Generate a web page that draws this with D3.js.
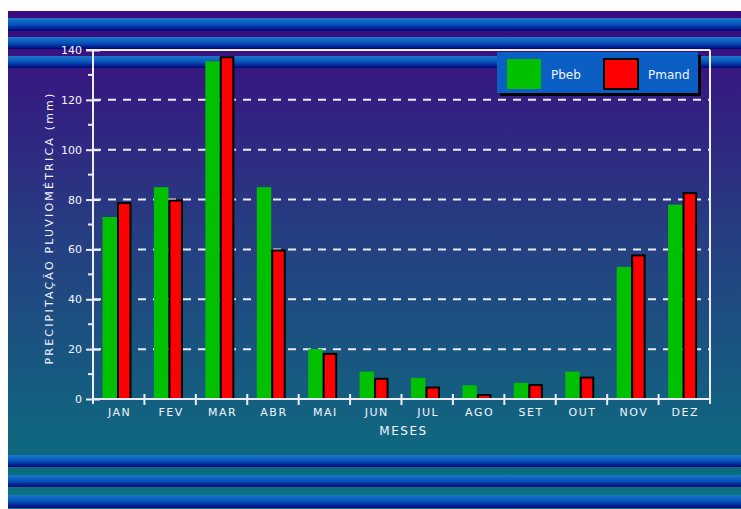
<!DOCTYPE html>
<html>
<head>
<meta charset="utf-8">
<script src="https://cdn.jsdelivr.net/npm/d3@7"></script>
<style>
  body { margin: 0; background: #fff; }
  text { font-family: "DejaVu Sans", sans-serif; fill: #f4f4ff; }
</style>
</head>
<body>
<svg id="chart" width="741" height="509"></svg>
<script>
// data
var months = ["JAN", "FEV", "MAR", "ABR", "MAI", "JUN", "JUL", "AGO", "SET", "OUT", "NOV", "DEZ"]
var pbeb  = [73, 85, 135.5, 85, 20, 11, 8.5, 5.5, 6.5, 11, 53, 78]
var pmand = [79, 80, 137.5, 60, 18.5, 8.5, 5, 2, 6, 9, 58, 83]
var seriesNames = ["Pbeb", "Pmand"]
var yTicks = [0, 20, 40, 60, 80, 100, 120, 140]

var margin = {left: 93, right: 31, top: 50, bottom: 110}
var width = 741 - margin.left - margin.right
var height = 509 - margin.top - margin.bottom

var svg = d3.select("#chart")
var defs = svg.append("defs")

var bg = defs.append("linearGradient").attr("id", "bg")
    .attr("x1", 0).attr("y1", 0).attr("x2", 0).attr("y2", 1)
bg.append("stop").attr("offset", "0%").attr("stop-color", "#3c0a80")
bg.append("stop").attr("offset", "45%").attr("stop-color", "#263e82")
bg.append("stop").attr("offset", "100%").attr("stop-color", "#08747e")

var stripe = defs.append("linearGradient").attr("id", "stripe")
    .attr("x1", 0).attr("y1", 0).attr("x2", 0).attr("y2", 1)
stripe.append("stop").attr("offset", "0%").attr("stop-color", "#1a78cc")
stripe.append("stop").attr("offset", "50%").attr("stop-color", "#0652b8")
stripe.append("stop").attr("offset", "100%").attr("stop-color", "#00047a")

// background panel + decorative stripes
svg.append("rect").attr("x", 8).attr("y", 11).attr("width", 733).attr("height", 498)
    .attr("fill", "url(#bg)")
var stripes = [[18, 13], [37, 12], [56, 12], [455, 12], [475, 12], [495, 13]]
svg.selectAll(".stripe").data(stripes).enter().append("rect")
    .attr("x", 8).attr("width", 733)
    .attr("y", function (d) { return d[0] })
    .attr("height", function (d) { return d[1] })
    .attr("fill", "url(#stripe)")

var g = svg.append("g").attr("transform", "translate(" + margin.left + "," + margin.top + ")")

var x = d3.scaleBand().domain(months).range([0, width])
var xSub = d3.scaleBand().domain(seriesNames).range([9.5, 38.5])
var y = d3.scaleLinear().domain([0, 140]).range([height, 0])

var lineColor = "#ececfa"

// dashed grid
g.selectAll(".grid").data(yTicks.filter(function (d) { return d > 0 && d < 140 }))
    .enter().append("line")
    .attr("x1", 0).attr("x2", width)
    .attr("y1", function (d) { return y(d) }).attr("y2", function (d) { return y(d) })
    .attr("stroke", lineColor).attr("stroke-width", 2)
    .attr("stroke-dasharray", "8,7")

// bars
var rows = months.map(function (m, i) { return {month: m, Pbeb: pbeb[i], Pmand: pmand[i]} })
var groups = g.selectAll(".grp").data(rows).enter().append("g")
    .attr("transform", function (d) { return "translate(" + x(d.month) + ",0)" })

groups.append("rect")
    .attr("x", xSub("Pbeb")).attr("width", xSub.bandwidth())
    .attr("y", function (d) { return y(d.Pbeb) })
    .attr("height", function (d) { return height - y(d.Pbeb) })
    .attr("fill", "#00c000")

groups.append("rect")
    .attr("x", xSub("Pmand") + 1).attr("width", xSub.bandwidth() - 2)
    .attr("y", function (d) { return y(d.Pmand) + 1 })
    .attr("height", function (d) { return Math.max(0, height - y(d.Pmand) - 1) })
    .attr("fill", "#ff0000").attr("stroke", "#000").attr("stroke-width", 2)

// frame (top and right)
g.append("line").attr("x1", -7).attr("x2", width).attr("y1", 0).attr("y2", 0)
    .attr("stroke", lineColor).attr("stroke-width", 2)
g.append("line").attr("x1", width).attr("x2", width).attr("y1", 0).attr("y2", height + 5)
    .attr("stroke", lineColor).attr("stroke-width", 2)

// y axis
var yAxis = g.append("g").call(d3.axisLeft(y).tickValues(yTicks).tickSize(7).tickPadding(5))
yAxis.select(".domain").remove()
yAxis.append("line").attr("x1", 0).attr("x2", 0).attr("y1", 0).attr("y2", height + 5)
    .attr("stroke", lineColor).attr("stroke-width", 2)
yAxis.selectAll(".tick line").attr("x2", -7).attr("x1", 7).attr("stroke", lineColor).attr("stroke-width", 2)
yAxis.selectAll(".tick text").attr("x", -11).style("font-size", "11px").style("fill", "#f4f4ff")
// minor ticks
g.selectAll(".minor").data(d3.range(10, 140, 20)).enter().append("line")
    .attr("x1", -5).attr("x2", 0)
    .attr("y1", function (d) { return y(d) }).attr("y2", function (d) { return y(d) })
    .attr("stroke", lineColor).attr("stroke-width", 2)

// x axis
g.append("line").attr("x1", 0).attr("x2", width).attr("y1", height).attr("y2", height)
    .attr("stroke", lineColor).attr("stroke-width", 2)
g.selectAll(".xtick").data(months.slice(1)).enter().append("line")
    .attr("x1", function (d) { return x(d) }).attr("x2", function (d) { return x(d) })
    .attr("y1", height - 5).attr("y2", height + 6)
    .attr("stroke", lineColor).attr("stroke-width", 2)
g.selectAll(".xlab").data(months).enter().append("text")
    .attr("x", function (d) { return x(d) + x.bandwidth() / 2 + 1 })
    .attr("y", height + 17)
    .attr("text-anchor", "middle")
    .style("font-size", "11px").style("letter-spacing", "1.5px")
    .text(function (d) { return d })

// axis titles
g.append("text").attr("x", width / 2 + 2).attr("y", height + 36)
    .attr("text-anchor", "middle").style("font-size", "12px").style("letter-spacing", "1.5px")
    .text("MESES")
g.append("text").attr("transform", "translate(-40," + (height / 2 + 3.5) + ") rotate(-90)")
    .attr("text-anchor", "middle").style("font-size", "11px").style("letter-spacing", "2.2px")
    .text("PRECIPITAÇÃO PLUVIOMÉTRICA (mm)")

// legend
var legend = svg.append("g").attr("transform", "translate(497,52)")
legend.append("rect").attr("x", 3).attr("y", 3).attr("width", 201).attr("height", 41).attr("fill", "#000")
legend.append("rect").attr("width", 201).attr("height", 41).attr("fill", "#0a5ec4")
var legendColors = ["#00c000", "#ff0000"]
var items = legend.selectAll(".item").data(seriesNames).enter().append("g")
    .attr("transform", function (d, i) { return "translate(" + (10 + i * 97) + ",7)" })
items.append("rect").attr("width", 34).attr("height", 30)
    .attr("fill", function (d, i) { return legendColors[i] })
    .attr("stroke", function (d, i) { return i == 1 ? "#000" : "none" })
    .attr("stroke-width", 2)
items.append("text").attr("x", 44).attr("y", 20).style("font-size", "12px")
    .text(function (d) { return d })
</script>
</body>
</html>
